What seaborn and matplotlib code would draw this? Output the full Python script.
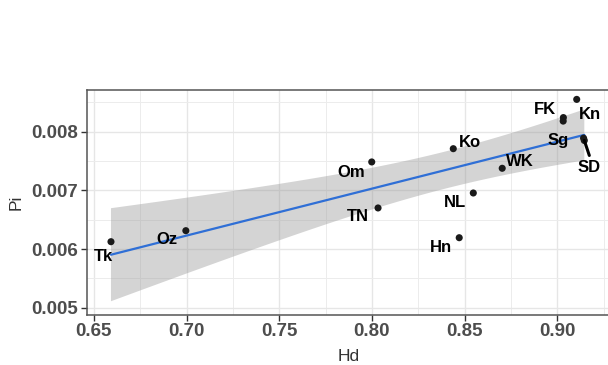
import numpy as np
import pandas as pd
import matplotlib
matplotlib.use("Agg")
import matplotlib.pyplot as plt
import seaborn as sns
from matplotlib.ticker import MultipleLocator

# ---- data ----
names = ["Tk", "Oz", "Om", "TN", "Ko", "Hn", "NL", "WK", "FK", "FK", "Kn",
         "Sg", "SD"]
hd = [0.6592, 0.6996, 0.7999, 0.8033, 0.8439, 0.8471, 0.8547, 0.8703,
      0.9033, 0.9032, 0.9105, 0.9142, 0.9146]
pi = [0.006125, 0.006313, 0.007484, 0.006700, 0.007710, 0.006193, 0.006955,
      0.007376, 0.008240, 0.008180, 0.008550, 0.007890, 0.007850]

x_ticks = [0.65, 0.70, 0.75, 0.80, 0.85, 0.90]
x_tick_labels = ["0.65", "0.70", "0.75", "0.80", "0.85", "0.90"]
y_ticks = [0.005, 0.006, 0.007, 0.008]
y_tick_labels = ["0.005", "0.006", "0.007", "0.008"]

# label offsets in pixels (dx right, dy up)
label_offsets = {
    "Tk": (-8, -15), "Oz": (-19, -9), "Om": (-21, -11), "TN": (-20, -9),
    "Ko": (17, 6), "Hn": (-18, -10), "NL": (-18, -10), "WK": (18, 7),
    "FK": (-18, 8), "Kn": (13, -15), "Sg": (-25, -2), "SD": (5, -27),
}
# labels joined to their point by a segment (ggrepel style)
segment_labels = {"SD": (5, -15)}

df = pd.DataFrame({"name": names, "Hd": hd, "Pi": pi})


def t_quantile(p, dof):
    """Student-t quantile by numeric integration of the density."""
    from math import lgamma, pi as PI
    grid = np.linspace(0, 20, 200001)
    c = np.exp(lgamma((dof + 1) / 2) - lgamma(dof / 2)) / np.sqrt(dof * PI)
    dens = c * (1 + grid ** 2 / dof) ** (-(dof + 1) / 2)
    cdf = 0.5 + np.concatenate([[0], np.cumsum((dens[1:] + dens[:-1]) / 2 * np.diff(grid))])
    return float(np.interp(p, cdf, grid))


# analytic 95% confidence band of the linear fit (as in ggplot's geom_smooth)
x = np.asarray(hd)
y = np.asarray(pi)
n = len(x)
b, a = np.polyfit(x, y, 1)
resid = y - (a + b * x)
s = np.sqrt(np.sum(resid ** 2) / (n - 2))
sxx = np.sum((x - x.mean()) ** 2)
grid_x = np.linspace(x.min(), x.max(), 100)
fit = a + b * grid_x
se = s * np.sqrt(1 / n + (grid_x - x.mean()) ** 2 / sxx)
tq = t_quantile(0.975, n - 2)

sns.set_theme(style="white")
plt.rcParams["font.family"] = ["Liberation Sans", "DejaVu Sans"]

fig = plt.figure(figsize=(6.08, 3.65), dpi=100)
ax = fig.add_axes([86.7 / 608, 50 / 365, (611 - 86.7) / 608, 225 / 365])

ax.fill_between(grid_x, fit - tq * se, fit + tq * se,
                facecolor=(0.6, 0.6, 0.6, 0.42), edgecolor="none", zorder=2)
sns.regplot(data=df, x="Hd", y="Pi", ax=ax, scatter=False, ci=None,
            color="#2f6fd6", line_kws={"linewidth": 1.6, "zorder": 3})

sns.scatterplot(data=df, x="Hd", y="Pi", ax=ax, color="#1a1a1a", s=26,
                edgecolor="none", zorder=4)

seen = set()
for nm, xv, yv in zip(names, hd, pi):
    if nm in seen:
        continue
    seen.add(nm)
    dx, dy = label_offsets[nm]
    ax.annotate(nm, (xv, yv), xytext=(dx, dy), textcoords="offset pixels",
                ha="center", va="center", fontsize=12, fontweight="bold",
                color="black", zorder=5)
    if nm in segment_labels:
        sx, sy = segment_labels[nm]
        ax.annotate("", (xv, yv), xytext=(sx, sy), textcoords="offset pixels",
                    arrowprops=dict(arrowstyle="-", color="black", lw=2.2,
                                    shrinkA=0, shrinkB=0), zorder=4)

ax.set_xlim(0.6461, 0.929)
ax.set_ylim(0.004876, 0.00871)
ax.set_xticks(x_ticks)
ax.set_xticklabels(x_tick_labels)
ax.set_yticks(y_ticks)
ax.set_yticklabels(y_tick_labels)
ax.xaxis.set_minor_locator(MultipleLocator(0.025))
ax.yaxis.set_minor_locator(MultipleLocator(0.0005))

ax.grid(True, which="major", color="#e6e6e6", linewidth=1.0, zorder=0)
ax.grid(True, which="minor", color="#ececec", linewidth=0.7, zorder=0)
ax.set_axisbelow(True)
for sp in ax.spines.values():
    sp.set_color("#555555")
    sp.set_linewidth(1.1)

ax.tick_params(axis="both", which="major", length=4, width=1.0,
               color="#333333", labelcolor="#4d4d4d", labelsize=13.5,
               bottom=True, left=True, pad=2)
ax.tick_params(axis="both", which="minor", length=0)
for lab in ax.get_xticklabels() + ax.get_yticklabels():
    lab.set_fontweight("bold")

ax.set_xlabel("Hd", fontsize=12.5, color="#333333", labelpad=6)
ax.set_ylabel("Pi", fontsize=12.5, color="#333333", labelpad=6)

fig.savefig("out.png", dpi=100)
